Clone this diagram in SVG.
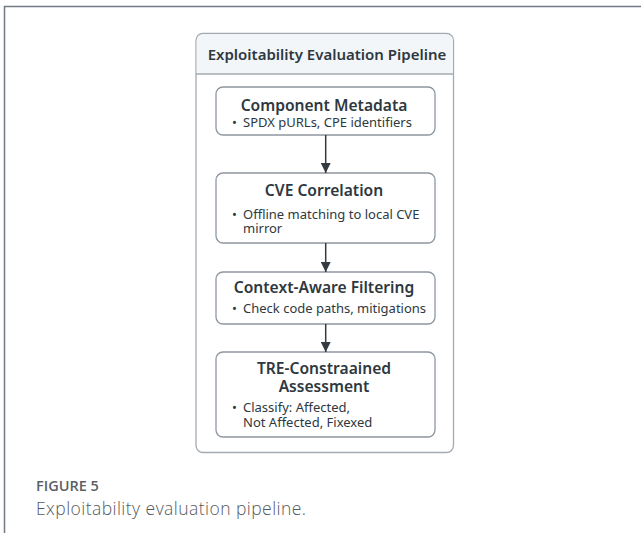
<svg xmlns="http://www.w3.org/2000/svg" width="641" height="533" viewBox="0 0 641 533">
  <style>
    .frame { fill: none; stroke: #737985; stroke-width: 1.5; }
    .panel { fill: #ffffff; stroke: #a2aab2; stroke-width: 1.3; }
    .panel-head { fill: #f3f6f9; }
    .box { fill: #ffffff; stroke: #8e979f; stroke-width: 1.3; }
    .title { font-family: "Noto Sans", "Open Sans", sans-serif; font-weight: 600; font-size: 15px; fill: #2e3840; text-anchor: middle; }
    .head { font-family: "Noto Sans", "Open Sans", sans-serif; font-weight: 600; font-size: 15.6px; fill: #2e3840; text-anchor: middle; }
    .item { font-family: "Noto Sans", "Open Sans", sans-serif; font-size: 13px; fill: #2e3840; }
    .edge { stroke: #333a40; stroke-width: 1.5; fill: none; }
    .cap-label { font-family: "Open Sans", "Noto Sans", sans-serif; font-weight: 600; font-size: 14.5px; fill: #5b5f66; }
    .cap-text { font-family: "Open Sans", "Noto Sans", sans-serif; font-weight: 300; font-size: 17.5px; fill: #55595f; }
  </style>
  <defs>
    <marker id="arrowhead" viewBox="0 0 10 10" refX="10" refY="5" markerWidth="10" markerHeight="10" markerUnits="userSpaceOnUse" orient="auto">
      <path d="M0,0 L10,5 L0,10 Z" fill="#333a40"/>
    </marker>
  </defs>

  <rect width="641" height="533" fill="#ffffff"/>
  <!-- page frame (left and top rules) -->
  <path class="frame" d="M4.5,533 L4.5,6.5 L641,6.5"/>

  <!-- pipeline panel -->
  <g id="pipeline-panel">
    <rect class="panel" x="196" y="33.5" width="257.5" height="419" rx="7"/>
    <path class="panel-head" d="M203,34.2 H446.5 A6.3,6.3 0 0 1 452.8,40.5 V73.6 H196.7 V40.5 A6.3,6.3 0 0 1 203,34.2 Z"/>
    <line x1="196" y1="74" x2="453.5" y2="74" stroke="#a2aab2" stroke-width="1.3"/>
    <text class="title" x="327" y="60">Exploitability Evaluation Pipeline</text>
  </g>

  <g id="component-metadata">
    <rect class="box" x="216" y="87" width="219" height="48" rx="7"/>
    <text class="head" x="324" y="110.5">Component Metadata</text>
    <text class="item" x="232" y="126.5">•</text>
    <text class="item" x="243" y="126.5">SPDX pURLs, CPE identifiers</text>
  </g>

  <g id="cve-correlation">
    <rect class="box" x="216" y="173" width="219" height="70" rx="7"/>
    <text class="head" x="324" y="196">CVE Correlation</text>
    <text class="item" x="232" y="218.5">•</text>
    <text class="item" x="243" y="218.5">Offline matching to local CVE</text>
    <text class="item" x="243" y="233">mirror</text>
  </g>

  <g id="context-filtering">
    <rect class="box" x="216" y="272" width="219" height="52" rx="7"/>
    <text class="head" x="324" y="293">Context-Aware Filtering</text>
    <text class="item" x="232" y="313">•</text>
    <text class="item" x="243" y="313">Check code paths, mitigations</text>
  </g>

  <g id="tre-assessment">
    <rect class="box" x="216" y="352" width="219" height="85" rx="7"/>
    <text class="head" x="324" y="374">TRE-Constraained</text>
    <text class="head" x="324" y="392">Assessment</text>
    <text class="item" x="232" y="412">•</text>
    <text class="item" x="243" y="412">Classify: Affected,</text>
    <text class="item" x="243" y="427">Not Affected, Fixexed</text>
  </g>

  <g id="connectors">
    <line class="edge" x1="325.7" y1="135" x2="325.7" y2="173" marker-end="url(#arrowhead)"/>
    <line class="edge" x1="325.7" y1="243" x2="325.7" y2="272" marker-end="url(#arrowhead)"/>
    <line class="edge" x1="325.7" y1="324" x2="325.7" y2="352" marker-end="url(#arrowhead)"/>
  </g>

  <!-- caption -->
  <text class="cap-label" x="36" y="491">FIGURE 5</text>
  <text class="cap-text" x="36" y="515" textLength="270" lengthAdjust="spacing">Exploitability evaluation pipeline.</text>
</svg>
